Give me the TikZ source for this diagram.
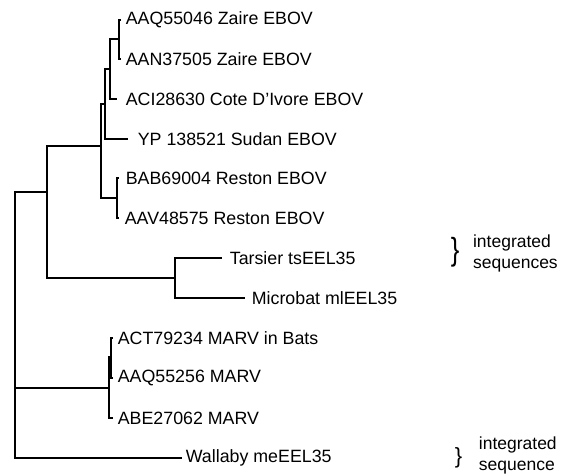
\documentclass[tikz,border=0pt]{standalone}
\usepackage{fontspec}
\setmainfont{Liberation Sans}
\usetikzlibrary{positioning}

\begin{document}
\begin{tikzpicture}[x=1pt,y=-1pt,line width=1.7pt,
  every node/.style={anchor=west,inner sep=0pt,font=\fontsize{17.8}{20}\selectfont},
  note/.style={align=left,font=\fontsize{17.5}{21}\selectfont}]
\useasboundingbox (0,0) rectangle (572,475);
% leaves
\node (zaireA) at (125,20) {AAQ55046 Zaire EBOV};
\node (zaireB) at (125,59) {AAN37505 Zaire EBOV};
\node (cote) at (125,99) {ACI28630 Cote D'Ivore EBOV};
\node (sudan) at (137,139) {YP 138521 Sudan EBOV};
\node (restonA) at (125,178) {BAB69004 Reston EBOV};
\node (restonB) at (124,218) {AAV48575 Reston EBOV};
\node (tarsier) at (229,258) {Tarsier tsEEL35};
\node (microbat) at (251,298) {Microbat mlEEL35};
\node (marvA) at (117,338) {ACT79234 MARV in Bats};
\node (marvB) at (117,378) {AAQ55256 MARV};
\node (marvC) at (117,418) {ABE27062 MARV};
\node (wallaby) at (185,458) {Wallaby meEEL35};
% branch tips
\coordinate (zaireA-t) at (121,20); \coordinate (zaireB-t) at (121,59);
\coordinate (cote-t) at (117,99); \coordinate (sudan-t) at (128,139);
\coordinate (restonA-t) at (119,178); \coordinate (restonB-t) at (119,218);
\coordinate (tarsier-t) at (222,258); \coordinate (microbat-t) at (245,298);
\coordinate (marvA-t) at (113,338); \coordinate (marvB-t) at (113,378); \coordinate (marvC-t) at (113,418);
\coordinate (wallaby-t) at (182,458);
% inner nodes
\coordinate (zaire) at (119,39); \coordinate (zc) at (110,69); \coordinate (zcs) at (105,104);
\coordinate (reston) at (117,198); \coordinate (ebov) at (101,146);
\coordinate (eel) at (175,278); \coordinate (filo) at (47,192);
\coordinate (marvAB) at (111,357); \coordinate (marv) at (109,388);
\coordinate (root) at (15,388);
\draw (zaire) |- (zaireA-t); \draw (zaire) |- (zaireB-t);
\draw (zc) |- (zaire); \draw (zc) |- (cote-t);
\draw (zcs) |- (zc); \draw (zcs) |- (sudan-t);
\draw (reston) |- (restonA-t); \draw (reston) |- (restonB-t);
\draw (ebov) |- (zcs); \draw (ebov) |- (reston);
\draw (eel) |- (tarsier-t); \draw (eel) |- (microbat-t);
\draw (filo) |- (ebov); \draw (filo) |- (eel);
\draw (marvAB) |- (marvA-t); \draw (marvAB) |- (marvB-t);
\draw (marv) |- (marvAB); \draw (marv) |- (marvC-t);
\draw (root) |- (filo); \draw (root) -- (marv); \draw (root) |- (wallaby-t);
% notes
\node[font=\fontsize{32}{32}\selectfont\addfontfeature{FakeStretch=0.8}] (braceA) at (450,252) {\}};
\node[note,right=12pt of braceA,yshift=-1pt] (noteA) {integrated\\sequences};
\node[font=\fontsize{22}{22}\selectfont] (braceB) at (454,458) {\}};
\node[note,right=15pt of braceB,yshift=3pt] (noteB) {integrated\\sequence};
\end{tikzpicture}
\end{document}
